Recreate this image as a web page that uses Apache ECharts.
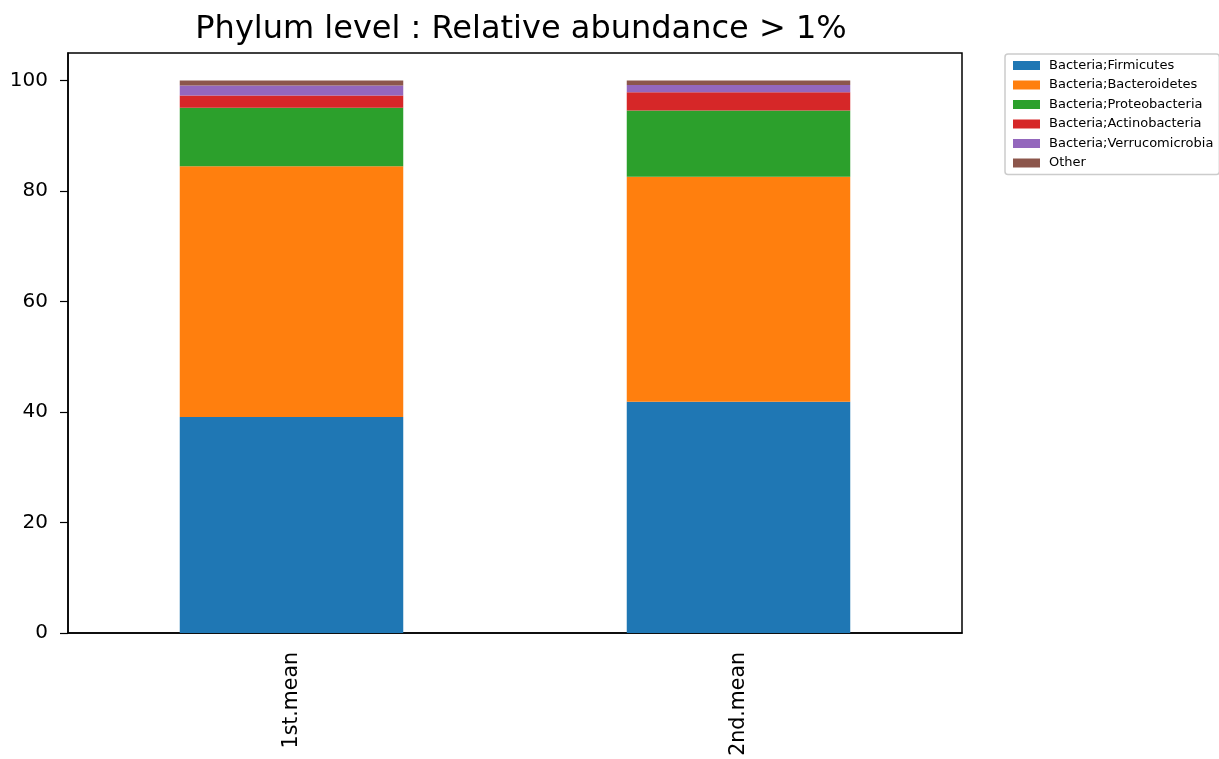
<!DOCTYPE html>
<html><head><meta charset="utf-8">
<script src="https://cdn.jsdelivr.net/npm/echarts@6/dist/echarts.min.js"></script>
<style>html,body{margin:0;padding:0;background:#fff}#c{width:1219px;height:759px}</style>
</head><body><div id="c"></div>
<script>
const categories = ['1st.mean', '2nd.mean'];
const seriesNames = ['Bacteria;Firmicutes','Bacteria;Bacteroidetes','Bacteria;Proteobacteria','Bacteria;Actinobacteria','Bacteria;Verrucomicrobia','Other'];
const firmicutes = [39.1, 41.85];
const bacteroidetes = [45.4, 40.75];
const proteobacteria = [10.6, 12.0];
const actinobacteria = [2.2, 3.3];
const verrucomicrobia = [1.8, 1.3];
const other = [0.9, 0.8];
const yTicks = [0, 20, 40, 60, 80, 100];
const colors = ['#1f77b4','#ff7f0e','#2ca02c','#d62728','#9467bd','#8c564b'];
const values = [firmicutes, bacteroidetes, proteobacteria, actinobacteria, verrucomicrobia, other];

const chart = echarts.init(document.getElementById('c'));
chart.setOption({
  animation: false,
  textStyle: {fontFamily: 'DejaVu Sans'},
  title: {text: 'Phylum level : Relative abundance > 1%', left: 516, top: 9, textAlign: 'center',
    textStyle: {fontSize: 32, fontWeight: 'normal', color: '#000', fontFamily: 'DejaVu Sans'}},
  legend: {orient: 'vertical', left: 1005, top: 54, itemWidth: 27, itemHeight: 9, itemGap: 6.5,
    padding: [5, 6, 5, 8], borderColor: '#ccc', borderWidth: 1.5, borderRadius: 3,
    icon: 'rect', data: seriesNames,
    textStyle: {fontSize: 13, color: '#000', fontFamily: 'DejaVu Sans', padding: [0,0,0,4]}},
  grid: {left: 68, right: 257, top: 53, bottom: 126, show: true, borderColor: '#000', borderWidth: 1.5},
  xAxis: {type: 'category', data: categories, boundaryGap: true,
    axisLine: {lineStyle: {color: '#000', width: 1.5}},
    axisTick: {alignWithLabel: true, length: 8, lineStyle: {color: '#000', width: 1.2}},
    axisLabel: {rotate: 90, fontSize: 20.5, color: '#000', margin: 19}},
  yAxis: {type: 'value', min: 0, max: 105, interval: 20,
    splitLine: {show: false},
    axisLine: {show: true, lineStyle: {color: '#000', width: 1.5}},
    axisTick: {show: true, length: 8, customValues: yTicks, lineStyle: {color: '#000', width: 1.2}},
    axisLabel: {fontSize: 20, color: '#000', margin: 20, customValues: yTicks}},
  series: seriesNames.map((n, i) => ({
    name: n, type: 'bar', stack: 'total', data: values[i], barWidth: '50%',
    itemStyle: {color: colors[i]}
  }))
});
</script></body></html>
